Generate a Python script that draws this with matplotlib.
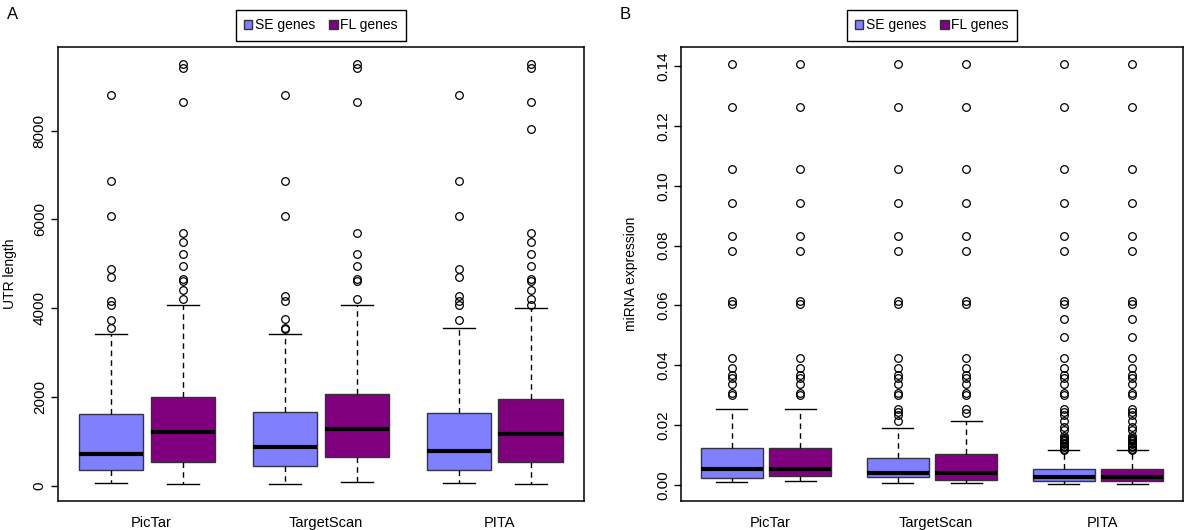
import matplotlib
matplotlib.use("Agg")
from matplotlib import pyplot as plt
from matplotlib.patches import Patch

plt.rcParams['font.family'] = ['Liberation Sans', 'DejaVu Sans']

categories = ["PicTar", "TargetScan", "PITA"]
series_names = ["SE genes", "FL genes"]
se_color = "#8080FF"
fl_color = "#800080"

# panel A: UTR length, per category [whisker low, Q1, median, Q3, whisker high]
utr_se_stats = [[54, 346, 720, 1606, 3410],
                [31, 450, 877, 1651, 3408],
                [54, 346, 780, 1635, 3554]]
utr_fl_stats = [[38, 526, 1208, 1988, 4066],
                [83, 652, 1275, 2063, 4066],
                [38, 526, 1156, 1950, 4004]]
utr_se_fliers = [[3554, 3743, 4064, 4161, 4701, 4890, 6066, 6860, 8803],
                 [3524, 3554, 3756, 4161, 4273, 6066, 6860, 8803],
                 [3743, 4064, 4161, 4273, 4701, 4890, 6066, 6860, 8803]]
utr_fl_fliers = [[4206, 4417, 4611, 4649, 4948, 5211, 5481, 5690, 8646, 9410, 9500],
                 [4206, 4611, 4649, 4948, 5211, 5690, 8646, 9410, 9500],
                 [4080, 4206, 4417, 4611, 4649, 4948, 5211, 5481, 5690, 8030, 8646, 9410, 9500]]

# panel B: miRNA expression
mir_se_stats = [[0.0009, 0.0023, 0.0054, 0.0124, 0.0254],
                [0.0006, 0.0027, 0.0040, 0.0090, 0.0190],
                [0.0002, 0.0012, 0.0027, 0.0054, 0.0115]]
mir_fl_stats = [[0.0012, 0.0030, 0.0052, 0.0124, 0.0254],
                [0.0006, 0.0017, 0.0040, 0.0104, 0.0213],
                [0.0002, 0.0012, 0.0027, 0.0054, 0.0115]]
mir_top = [0.0605, 0.0616, 0.0783, 0.0831, 0.0941, 0.1057, 0.1263, 0.1407]
mir_mid = [0.0299, 0.0308, 0.0336, 0.0358, 0.0367, 0.0389, 0.0424]
mir_pita_low = [0.0116, 0.0121, 0.0125, 0.0130, 0.0135, 0.0139, 0.0145, 0.0150,
                0.0154, 0.0158, 0.0163, 0.0182, 0.0194, 0.0213, 0.0234, 0.0243,
                0.0255]
mir_se_fliers = [mir_mid + mir_top,
                 [0.0213, 0.0234, 0.0243, 0.0255] + mir_mid + mir_top,
                 mir_pita_low + mir_mid + [0.0495, 0.0553] + mir_top]
mir_fl_fliers = [mir_mid + mir_top,
                 [0.0240, 0.0255] + mir_mid + mir_top,
                 mir_pita_low + mir_mid + [0.0495, 0.0553] + mir_top]

se_pos = [1, 3.42, 5.84]
fl_pos = [2, 4.42, 6.84]
label_pos = [1.56, 3.98, 6.40]


def to_bxp(stats, fliers):
    out = []
    for s, f in zip(stats, fliers):
        out.append(dict(whislo=s[0], q1=s[1], med=s[2], q3=s[3], whishi=s[4], fliers=f))
    return out


def draw_panel(ax, se_stats, fl_stats, se_fl, fl_fl, yticks, fmt, ylabel):
    common = dict(widths=0.9, capwidths=0.45, patch_artist=True, manage_ticks=False,
                  medianprops=dict(color="black", linewidth=3),
                  whiskerprops=dict(color="black", linewidth=1, linestyle=(0, (4, 3))),
                  capprops=dict(color="black", linewidth=1),
                  flierprops=dict(marker="o", markerfacecolor="none", markeredgecolor="black",
                                  markersize=5.5, markeredgewidth=0.9))
    ax.bxp(to_bxp(se_stats, se_fl), positions=se_pos,
           boxprops=dict(facecolor=se_color, edgecolor="#333344", linewidth=1), **common)
    ax.bxp(to_bxp(fl_stats, fl_fl), positions=fl_pos,
           boxprops=dict(facecolor=fl_color, edgecolor="#333333", linewidth=1), **common)

    # R-like axis limits
    lo = min(s[0] for s in se_stats + fl_stats)
    hi = max(max(f) for f in se_fl + fl_fl)
    pad = (hi - lo) * 0.04
    ax.set_ylim(lo - pad, hi + pad)
    x0, x1 = min(se_pos) - 0.5, max(fl_pos) + 0.5
    xpad = (x1 - x0) * 0.035
    ax.set_xlim(x0 - xpad, x1 + xpad)

    ax.set_yticks(yticks)
    ax.set_yticklabels([fmt.format(t) for t in yticks], rotation=90, va="center", fontsize=11)
    ax.set_xticks(label_pos)
    ax.set_xticklabels(categories, fontsize=10.5)
    ax.tick_params(axis="x", length=0, pad=11)
    ax.tick_params(axis="y", direction="out", length=5, width=1, pad=3)
    for sp in ax.spines.values():
        sp.set_linewidth(1.1)
    ax.set_ylabel(ylabel, fontsize=10)

    handles = [Patch(facecolor=se_color, edgecolor="#333333", label=series_names[0]),
               Patch(facecolor=fl_color, edgecolor="#333333", label=series_names[1])]
    leg = ax.legend(handles=handles, loc="lower center", bbox_to_anchor=(0.5, 1.015), ncol=2,
                    fancybox=False, edgecolor="black", fontsize=10, handlelength=0.6,
                    handleheight=0.6, handletextpad=0.2, columnspacing=1.0,
                    borderpad=0.6, borderaxespad=0, framealpha=1)
    leg.get_frame().set_linewidth(1)


fig = plt.figure(figsize=(12, 5.3), dpi=100)
ax_a = fig.add_axes([0.0483, 0.0547, 0.4383, 0.856])
ax_b = fig.add_axes([0.5675, 0.0547, 0.4183, 0.856])

draw_panel(ax_a, utr_se_stats, utr_fl_stats, utr_se_fliers, utr_fl_fliers,
           [0, 2000, 4000, 6000, 8000], "{:.0f}", "UTR length")
draw_panel(ax_b, mir_se_stats, mir_fl_stats, mir_se_fliers, mir_fl_fliers,
           [0, 0.02, 0.04, 0.06, 0.08, 0.10, 0.12, 0.14], "{:.2f}", "miRNA expression")
ax_a.yaxis.set_label_coords(-0.078, 0.5)
ax_b.yaxis.set_label_coords(-0.086, 0.5)

fig.text(0.006, 0.972, "A", fontsize=12, va="center")
fig.text(0.516, 0.972, "B", fontsize=12, va="center")

plt.savefig("out.png", dpi=100)
